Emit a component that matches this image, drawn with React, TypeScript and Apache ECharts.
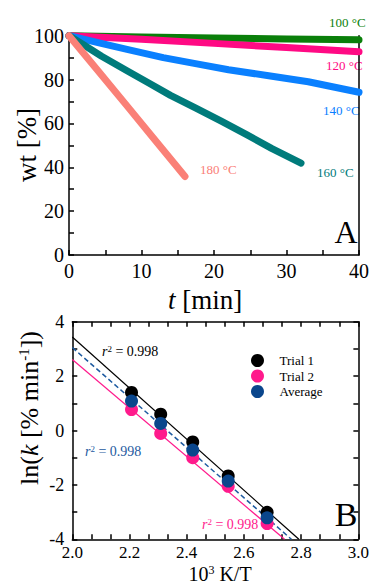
import React, { useEffect, useRef } from "react";
import * as echarts from "echarts";

const FONT = "Liberation Serif";

// ---- Panel A: weight loss vs time ----
const t100 = [0, 10, 20, 30, 40];
const wt100 = [100, 99.4, 98.9, 98.5, 98.1];
const t120 = [0, 10, 20, 30, 40];
const wt120 = [100, 98.4, 96.5, 94.6, 92.7];
const t140 = [0, 4, 8, 13, 18, 22, 28, 33, 40];
const wt140 = [100, 96.8, 93.8, 90.0, 86.9, 84.5, 81.5, 79.0, 74.2];
const t160 = [0, 2, 4.5, 8, 11, 14, 17.5, 21, 24.5, 28, 32];
const wt160 = [100, 95.9, 90.6, 84.0, 78.4, 72.8, 67.0, 61.0, 54.9, 48.5, 41.9];
const t180 = [0, 4, 8, 12, 16];
const wt180 = [100, 84.0, 68.0, 51.9, 35.8];
const tempLabels = ["100 °C", "120 °C", "140 °C", "160 °C", "180 °C"];
const tempColors = ["#0a7f0a", "#ff0a84", "#0a80ff", "#007b7b", "#fa8077"];

// ---- Panel B: Arrhenius plot ----
const invT = [2.207, 2.309, 2.421, 2.545, 2.681];
const lnkTrial1 = [1.4, 0.6, -0.42, -1.67, -3.01];
const lnkTrial2 = [0.77, -0.11, -1.0, -2.05, -3.42];
const lnkAvg = [1.08, 0.26, -0.72, -1.86, -3.21];
const fitX1 = [2.0, 2.792];
const fitY1 = [3.44, -4];
const fitX2 = [2.0, 2.742];
const fitY2 = [2.61, -4];
const fitXAvg = [2.0, 2.766];
const fitYAvg = [3.05, -4];
const seriesNames = ["Trial 1", "Trial 2", "Average"];
const rSquared = ["0.998", "0.998", "0.998"];

const zip = (xs: number[], ys: number[]) => xs.map((x, i) => [x, ys[i]]);

const BLACK = "#000000";
const PINK = "#ff1a8c";
const NAVY = "#0a468c";
const DASH = "#1d5aa0";

function axisBase(extra: any) {
  return {
    type: "value",
    splitLine: { show: false },
    axisLine: { show: true, onZero: false, lineStyle: { color: "#000", width: 1.5 } },
    axisTick: { show: true, inside: true, length: 5, lineStyle: { color: "#000", width: 1.5 } },
    minorTick: { show: true, length: 5, lineStyle: { color: "#000", width: 1.5 } },
    axisLabel: { color: "#000", fontFamily: FONT, fontSize: 19 },
    ...extra,
  };
}

export default function App() {
  const ref = useRef<HTMLDivElement>(null);
  useEffect(() => {
    if (!ref.current) return;
    const chart = echarts.init(ref.current, undefined, { renderer: "svg" });
    const lineA = (xs: number[], ys: number[], i: number) => ({
      type: "line",
      xAxisIndex: 0,
      yAxisIndex: 0,
      data: zip(xs, ys),
      showSymbol: false,
      symbol: "none",
      clip: false,
      silent: true,
      lineStyle: { color: tempColors[i], width: 7, cap: "round", join: "round" },
      z: 2 + i,
    });
    const fitLine = (xs: number[], ys: number[], color: string, type: any, width: number) => ({
      type: "line",
      xAxisIndex: 1,
      yAxisIndex: 2,
      data: zip(xs, ys),
      showSymbol: false,
      symbol: "none",
      silent: true,
      lineStyle: { color, width, type },
      z: 2,
    });
    const scatB = (name: string, ys: number[], color: string, z: number) => ({
      type: "scatter",
      name,
      xAxisIndex: 1,
      yAxisIndex: 2,
      data: zip(invT, ys),
      symbol: "circle",
      symbolSize: 13,
      itemStyle: { color, opacity: 1 },
      z,
    });
    const rText = (x: number, y: number, color: string, val: string) => ({
      type: "text",
      x,
      y,
      style: {
        text: "{i|r}{s|2}{n| = " + val + "}",
        fill: color,
        verticalAlign: "middle",
        align: "left",
        rich: {
          i: { fontFamily: FONT, fontSize: 14, fontStyle: "italic", fill: color, verticalAlign: "bottom" },
          s: { fontFamily: FONT, fontSize: 9, fill: color, verticalAlign: "top" },
          n: { fontFamily: FONT, fontSize: 14, fill: color, verticalAlign: "bottom" },
        },
      },
    });
    const tLabel = (x: number, y: number, i: number) => ({
      type: "text",
      x,
      y,
      style: {
        text: tempLabels[i],
        fill: tempColors[i],
        fontFamily: FONT,
        fontSize: 13,
        align: "left",
        verticalAlign: "middle",
      },
    });
    const option: any = {
      animation: false,
      textStyle: { fontFamily: FONT },
      grid: [
        { left: 69, top: 35.7, width: 293.7, height: 219.3 },
        { left: 72.3, top: 321.7, width: 289.2, height: 217.6 },
      ],
      xAxis: [
        axisBase({
          gridIndex: 0,
          min: 0,
          max: 40,
          interval: 10,
          minorTick: { show: true, splitNumber: 2, length: 5, lineStyle: { color: "#000", width: 1.5 } },
          axisLabel: { color: "#000", fontFamily: FONT, fontSize: 20, margin: 6 },
        }),
        axisBase({
          gridIndex: 1,
          min: 2.0,
          max: 3.0,
          interval: 0.2,
          minorTick: { show: true, splitNumber: 3, length: 5, lineStyle: { color: "#000", width: 1.5 } },
          axisLabel: {
            color: "#000",
            fontFamily: FONT,
            fontSize: 17,
            margin: 5,
            formatter: (v: number) => v.toFixed(1),
          },
        }),
        axisBase({
          gridIndex: 1,
          position: "top",
          min: 2.0,
          max: 3.0,
          interval: 0.2,
          minorTick: { show: true, splitNumber: 3, length: 5, lineStyle: { color: "#000", width: 1.5 } },
          axisLabel: { show: false },
        }),
      ],
      yAxis: [
        axisBase({
          gridIndex: 0,
          min: 0,
          max: 100,
          interval: 20,
          minorTick: { show: true, splitNumber: 2, length: 5, lineStyle: { color: "#000", width: 1.5 } },
          axisLabel: { color: "#000", fontFamily: FONT, fontSize: 20, margin: 5 },
        }),
        axisBase({
          gridIndex: 0,
          position: "right",
          min: 0,
          max: 100,
          axisTick: { show: false },
          minorTick: { show: false },
          axisLabel: { show: false },
        }),
        axisBase({
          gridIndex: 1,
          min: -4,
          max: 4,
          interval: 2,
          minorTick: { show: true, splitNumber: 2, length: 5, lineStyle: { color: "#000", width: 1.5 } },
          axisLabel: { color: "#000", fontFamily: FONT, fontSize: 18, margin: 8 },
        }),
        axisBase({
          gridIndex: 1,
          position: "right",
          min: -4,
          max: 4,
          interval: 2,
          minorTick: { show: true, splitNumber: 2, length: 5, lineStyle: { color: "#000", width: 1.5 } },
          axisLabel: { show: false },
        }),
      ],
      legend: {
        data: seriesNames,
        orient: "vertical",
        left: 246,
        top: 349,
        itemWidth: 34,
        itemHeight: 13,
        itemGap: 2.5,
        icon: "circle",
        symbolKeepAspect: true,
        selectedMode: false,
        textStyle: { fontFamily: FONT, fontSize: 13, color: "#000" },
      },
      series: [
        lineA(t100, wt100, 0),
        lineA(t120, wt120, 1),
        lineA(t140, wt140, 2),
        lineA(t160, wt160, 3),
        lineA(t180, wt180, 4),
        fitLine(fitX1, fitY1, BLACK, "solid", 1.2),
        fitLine(fitX2, fitY2, PINK, "solid", 1.2),
        fitLine(fitXAvg, fitYAvg, DASH, [5, 3], 1.5),
        scatB(seriesNames[0], lnkTrial1, BLACK, 5),
        scatB(seriesNames[1], lnkTrial2, PINK, 6),
        scatB(seriesNames[2], lnkAvg, NAVY, 7),
      ],
      graphic: [
        tLabel(329, 22, 0),
        tLabel(326, 65, 1),
        tLabel(323, 110, 2),
        tLabel(317, 172, 3),
        tLabel(200, 169, 4),
        {
          type: "text",
          x: 346,
          y: 232,
          style: { text: "A", fontFamily: FONT, fontSize: 32, fill: "#000", align: "center", verticalAlign: "middle" },
        },
        {
          type: "text",
          x: 346,
          y: 514,
          style: { text: "B", fontFamily: FONT, fontSize: 34, fill: "#000", align: "center", verticalAlign: "middle" },
        },
        {
          type: "text",
          x: 27,
          y: 145,
          rotation: Math.PI / 2,
          style: { text: "wt [%]", fontFamily: FONT, fontSize: 27, fill: "#000", align: "center", verticalAlign: "middle" },
        },
        {
          type: "text",
          x: 205,
          y: 300,
          style: {
            text: "{i|t}{n| [min]}",
            fill: "#000",
            align: "center",
            verticalAlign: "middle",
            rich: {
              i: { fontFamily: FONT, fontSize: 27, fontStyle: "italic", fill: "#000" },
              n: { fontFamily: FONT, fontSize: 27, fill: "#000" },
            },
          },
        },
        {
          type: "text",
          x: 29,
          y: 408,
          rotation: Math.PI / 2,
          style: {
            text: "{n|ln(}{i|k}{n| [% min}{s|-1}{n|])}",
            fill: "#000",
            align: "center",
            verticalAlign: "middle",
            rich: {
              n: { fontFamily: FONT, fontSize: 26, fill: "#000", verticalAlign: "bottom" },
              i: { fontFamily: FONT, fontSize: 26, fontStyle: "italic", fill: "#000", verticalAlign: "bottom" },
              s: { fontFamily: FONT, fontSize: 15, fill: "#000", verticalAlign: "top" },
            },
          },
        },
        {
          type: "text",
          x: 220,
          y: 573.5,
          style: {
            text: "{n|10}{s|3}{n| K/T}",
            fill: "#000",
            align: "center",
            verticalAlign: "middle",
            rich: {
              n: { fontFamily: FONT, fontSize: 20, lineHeight: 20, fill: "#000", verticalAlign: "bottom" },
              s: { fontFamily: FONT, fontSize: 12, lineHeight: 20, fill: "#000", verticalAlign: "top" },
            },
          },
        },
        rText(102, 351, BLACK, rSquared[0]),
        rText(85, 451, DASH, rSquared[2]),
        rText(202, 524, PINK, rSquared[1]),
      ],
    };
    chart.setOption(option);
    return () => chart.dispose();
  }, []);
  return (
    <div
      ref={ref}
      style={{ position: "absolute", left: 0, top: 0, width: 372, height: 583, background: "#fff" }}
    />
  );
}
